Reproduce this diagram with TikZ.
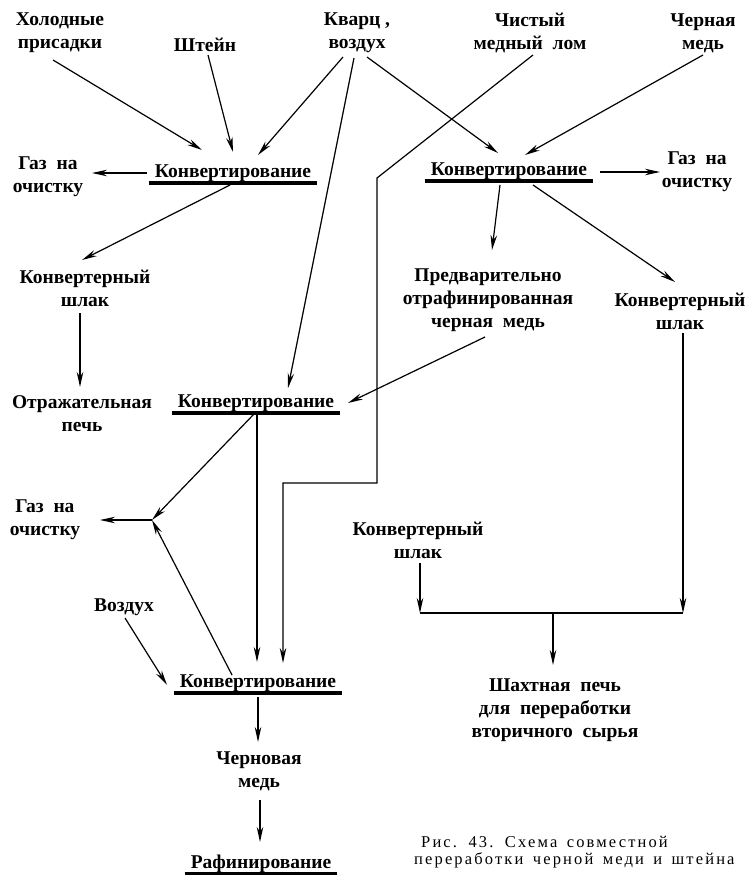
\documentclass[tikz,border=0pt]{standalone}
\usepackage{fontspec}
\setmainfont{Liberation Serif}
\newfontfamily\capfont[LetterSpace=13,WordSpace=1.5]{Liberation Serif}
\usetikzlibrary{arrows.meta}
\begin{document}
\begin{tikzpicture}[x=1pt,y=-1pt,
 lbl/.style={font=\fontsize{19.5}{23}\selectfont\bfseries, align=center, inner sep=0pt},
 conv/.style={font=\fontsize{19.5}{23}\selectfont\bfseries, inner xsep=6pt, inner ysep=3pt, text height=13pt, text depth=3pt},
 ul/.style={line width=3.5pt},
 arr/.style={line width=1.2pt, -{Stealth[length=15pt,width=6.5pt]}},
 ln/.style={line width=1.2pt}]
\useasboundingbox[fill=white] (0,0) rectangle (744,875);

% text nodes
\node[lbl] (hol) at (60,33) {Холодные\\присадки};
\node[lbl] (sht) at (205,45) {Штейн};
\node[lbl] (kv) at (357,33) {Кварц ,\\воздух};
\node[lbl] (chist) at (530,33) {Чистый\\медный\ \ лом};
\node[lbl] (cher) at (703,33) {Черная\\медь};
\node[lbl] (gas1) at (48,177) {Газ\ \ на\\очистку};
\node[lbl] (gas2) at (697,172) {Газ\ \ на\\очистку};
\node[lbl] (slagL) at (85,288) {Конвертерный\\шлак};
\node[lbl] (pre) at (488,300) {Предварительно\\отрафинированная\\черная\ \ медь};
\node[lbl] (slagR) at (680,311) {Конвертерный\\шлак};
\node[lbl] (refl) at (82,414) {Отражательная\\печь};
\node[lbl] (gas3) at (45,520) {Газ\ \ на\\очистку};
\node[lbl] (vozd) at (124,607) {Воздух};
\node[lbl] (slagM) at (418,540) {Конвертерный\\шлак};
\node[lbl] (shaft) at (555,710) {Шахтная\ \ печь\\для\ \ переработки\\вторичного\ \ сырья};
\node[lbl] (chern) at (259,771) {Черновая\\медь};

% process nodes
\node[conv] (c1) at (233,172) {Конвертирование};
\node[conv] (c2) at (509,170) {Конвертирование};
\node[conv] (c3) at (256,402) {Конвертирование};
\node[conv] (c4) at (258,682) {Конвертирование};
\node[conv] (c5) at (261,863) {Рафинирование};
\foreach \n in {c1,c2,c3,c4,c5}
  \draw[ul] (\n.south west) -- (\n.south east);

% caption
\node[font=\capfont\fontsize{16.5}{17}\selectfont, align=left, anchor=north west, inner sep=0pt] (cap) at (414,836)
  {\hspace*{7pt}Рис. 43. Схема совместной\\переработки черной меди и штейна};

% connectors
\draw[arr] ([shift={(-7,27)}]hol.center) -- ([shift={(-31,-22)}]c1.center);
\draw[arr] ([shift={(3,10)}]sht.center) -- ([shift={(0,-20)}]c1.center);
\draw[arr] ([shift={(-14,24)}]kv.center) -- ([shift={(25,-17)}]c1.center);
\draw[arr] ([shift={(-3,25)}]kv.center) -- ([shift={(32,-14)}]c3.center);
\draw[arr] ([shift={(10,24)}]kv.center) -- ([shift={(-11,-17)}]c2.center);

\coordinate (b1) at (377,178);
\coordinate (b2) at (377,483);
\coordinate (b3) at (283,483);
\draw[arr] ([shift={(3,22)}]chist.center) -- (b1) -- (b2) -- (b3) -- ([shift={(25,-19)}]c4.center);

\draw[arr] ([shift={(0,22)}]cher.center) -- ([shift={(16,-15)}]c2.center);
\draw[arr] ([shift={(91,2)}]c2.center) -- ([shift={(-37,0)}]gas2.center);
\draw[arr] ([shift={(-86,1)}]c1.center) -- ([shift={(44,-4)}]gas1.center);
\draw[arr] ([shift={(-3,13)}]c1.center) -- ([shift={(-3,-28)}]slagL.center);
\draw[arr] ([shift={(-5,25)}]slagL.center) -- ([shift={(-2,-27)}]refl.center);
\draw[arr] ([shift={(-9,15)}]c2.center) -- ([shift={(4,-50)}]pre.center);
\draw[arr] ([shift={(24,15)}]c2.center) -- ([shift={(-5,-29)}]slagR.center);
\draw[arr] ([shift={(-3,37)}]pre.center) -- ([shift={(92,1)}]c3.center);

\coordinate (jL) at (420,613);
\coordinate (jM) at (553,613);
\coordinate (jR) at (683,613);
\draw[arr] ([shift={(3,22)}]slagR.center) -- (jR);
\draw[arr] ([shift={(2,23)}]slagM.center) -- (jL);
\draw[ln] (jL) -- (jR);
\draw[arr] (jM) -- ([shift={(-2,-45)}]shaft.center);

\coordinate (gj) at (152,520);
\draw[arr] ([shift={(-2,12)}]c3.center) -- (gj);
\draw[arr] (gj) -- ([shift={(55,0)}]gas3.center);
\draw[arr] ([shift={(-26,-7)}]c4.center) -- (gj);
\draw[arr] ([shift={(1,11)}]c3.center) -- ([shift={(-1,-20)}]c4.center);
\draw[arr] ([shift={(1,11)}]vozd.center) -- ([shift={(-91,3)}]c4.center);
\draw[arr] ([shift={(0,15)}]c4.center) -- ([shift={(-1,-29)}]chern.center);
\draw[arr] ([shift={(1,29)}]chern.center) -- ([shift={(-1,-21)}]c5.center);
\end{tikzpicture}
\end{document}
